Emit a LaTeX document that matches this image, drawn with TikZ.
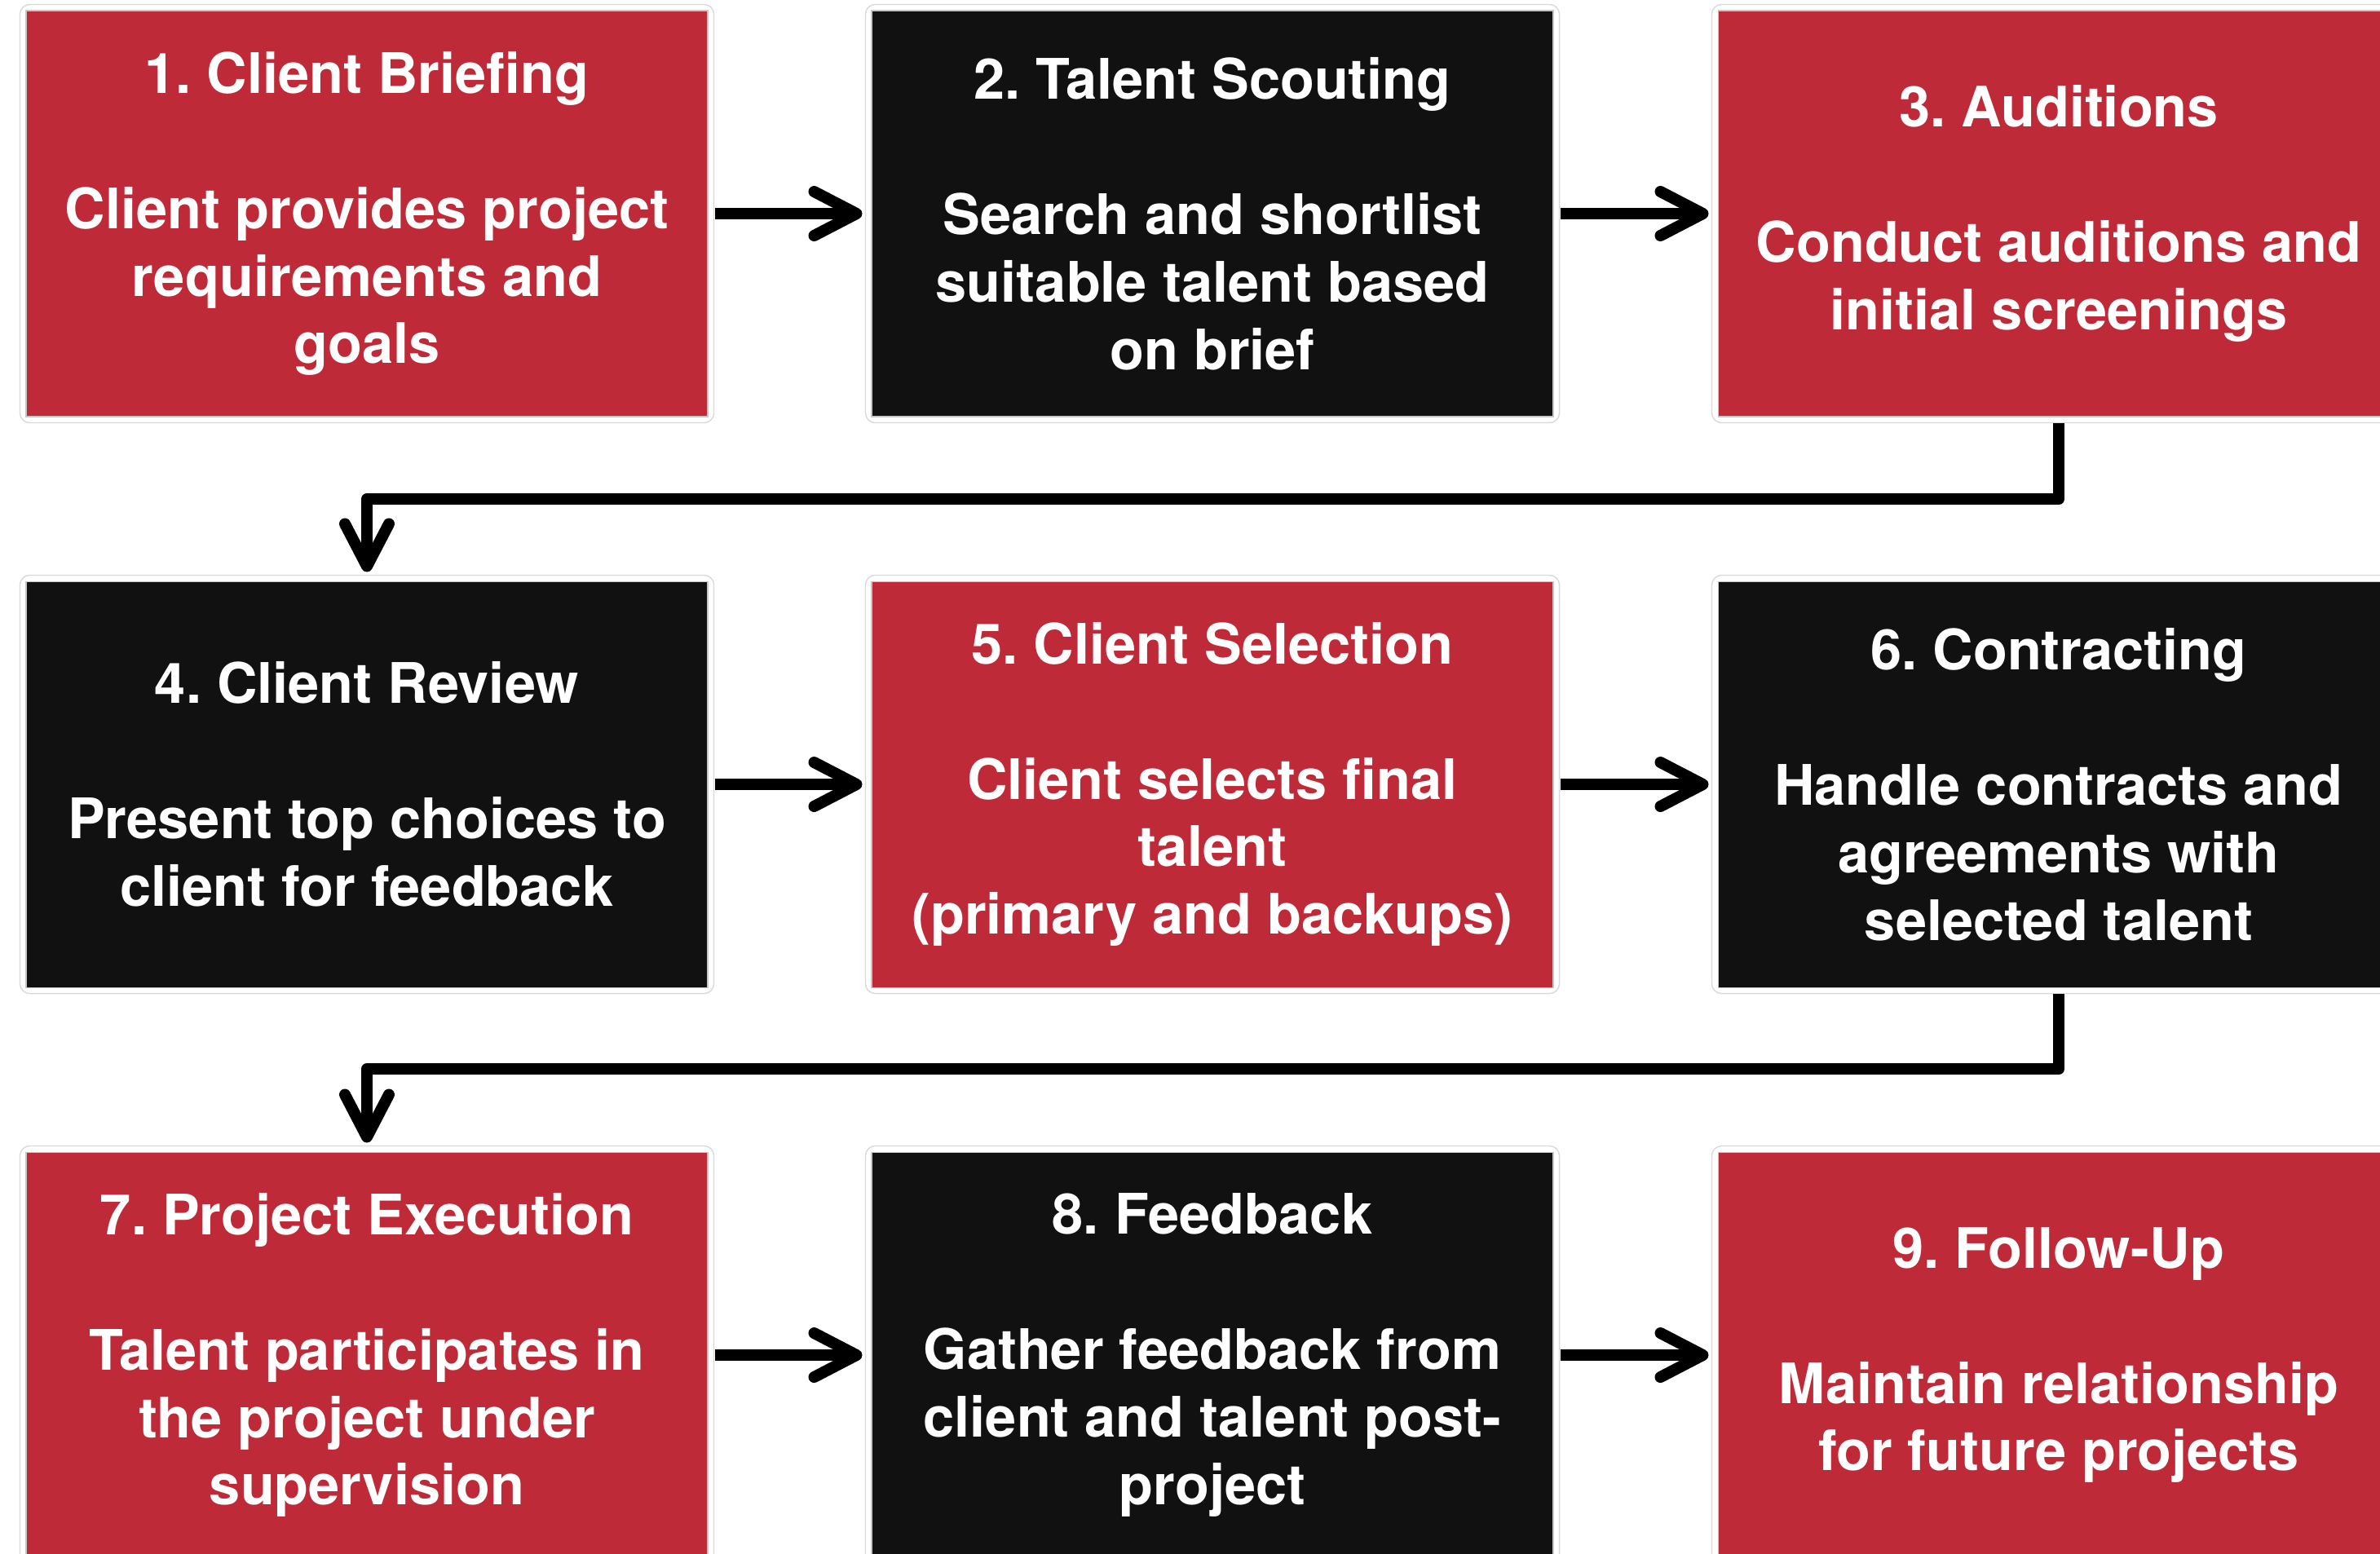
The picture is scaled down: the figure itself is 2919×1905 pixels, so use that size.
\documentclass[tikz,border=0pt]{standalone}
\usepackage{fontspec}
\setmainfont{TeX Gyre Heros}
\usetikzlibrary{arrows.meta}
\frenchspacing

\definecolor{stagered}{HTML}{BE2A37}
\definecolor{stageblack}{HTML}{111111}

\begin{document}
\begin{tikzpicture}[x=0.1mm,y=-0.1mm,stage/.style={draw=black!22,line width=0.3pt,minimum width=83.6mm,minimum height=49.8mm,inner sep=0pt,align=center,text=white,font=\fontsize{19.5}{23.6}\selectfont\bfseries},redstage/.style={stage,fill=stagered},darkstage/.style={stage,fill=stageblack},halo/.style={draw=black!15,line width=0.4pt,rounded corners=1.2mm},flow/.style={line width=1.4mm,line join=round,-{Straight Barb[length=5.2mm,width=5.4mm,line cap=round,line join=round]}}]
\useasboundingbox (0,0) rectangle (2919,1905);
\clip (0,0) rectangle (2919,1905);
\node[redstage] (s1) at (450,262){1. Client Briefing\\[23.6pt]Client provides project\\requirements and\\goals};
\node[darkstage] (s2) at (1487,262){2. Talent Scouting\\[23.6pt]Search and shortlist\\suitable talent based\\on brief};
\node[redstage] (s3) at (2525,262){3. Auditions\\[23.6pt]Conduct auditions and\\initial screenings};
\node[darkstage] (s4) at (450,962){4. Client Review\\[23.6pt]Present top choices to\\client for feedback};
\node[redstage] (s5) at (1487,962){5. Client Selection\\[23.6pt]Client selects final\\talent\\(primary and backups)};
\node[darkstage] (s6) at (2525,962){6. Contracting\\[23.6pt]Handle contracts and\\agreements with\\selected talent};
\node[redstage] (s7) at (450,1662){7. Project Execution\\[23.6pt]Talent participates in\\the project under\\supervision};
\node[darkstage] (s8) at (1487,1662){8. Feedback\\[23.6pt]Gather feedback from\\client and talent post-\\project};
\node[redstage] (s9) at (2525,1662){9. Follow-Up\\[23.6pt]Maintain relationship\\for future projects};
\foreach \i in {1,...,9}
  \draw[halo] ([shift={(-0.7mm,-0.7mm)}]s\i.south west) rectangle ([shift={(0.7mm,0.7mm)}]s\i.north east);
% turning lines between the rows
\coordinate (turnA) at (0,612);
\coordinate (turnB) at (0,1311);
\draw[flow] ([xshift=0.8mm]s1.east) -- ([xshift=-1.1mm]s2.west);
\draw[flow] ([xshift=0.8mm]s2.east) -- ([xshift=-1.1mm]s3.west);
\draw[flow] ([yshift=-0.7mm]s3.south) -- (s3.south |- turnA) -| ([yshift=1.1mm]s4.north);
\draw[flow] ([xshift=0.8mm]s4.east) -- ([xshift=-1.1mm]s5.west);
\draw[flow] ([xshift=0.8mm]s5.east) -- ([xshift=-1.1mm]s6.west);
\draw[flow] ([yshift=-0.7mm]s6.south) -- (s6.south |- turnB) -| ([yshift=1.1mm]s7.north);
\draw[flow] ([xshift=0.8mm]s7.east) -- ([xshift=-1.1mm]s8.west);
\draw[flow] ([xshift=0.8mm]s8.east) -- ([xshift=-1.1mm]s9.west);
\end{tikzpicture}
\end{document}
